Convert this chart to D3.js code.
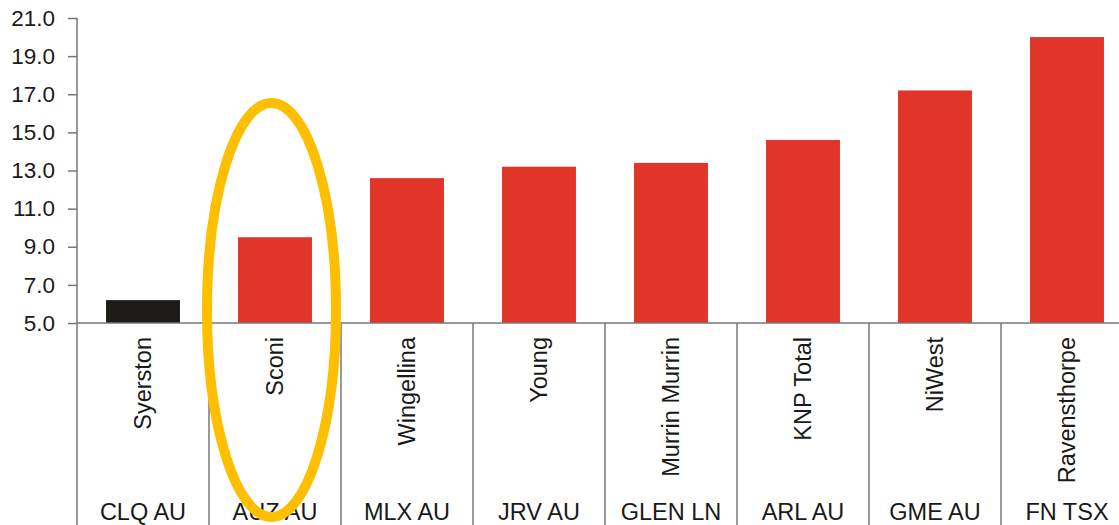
<!DOCTYPE html>
<html>
<head>
<meta charset="utf-8">
<script src="https://cdn.jsdelivr.net/npm/d3@7"></script>
<style>
  body { margin: 0; background: white; }
  text { font-family: "Liberation Sans", Arial, sans-serif; fill: #1a1a1a; }
</style>
</head>
<body>
<div id="canvas"></div>
<script>
const width = 1119;
const height = 525;

// data
const tickers = ["CLQ AU", "AUZ AU", "MLX AU", "JRV AU", "GLEN LN", "ARL AU", "GME AU", "FN TSX"];
const projects = ["Syerston", "Sconi", "Wingellina", "Young", "Murrin Murrin", "KNP Total", "NiWest", "Ravensthorpe"];
const values = [6.2, 9.5, 12.6, 13.2, 13.4, 14.6, 17.2, 20.0];
const barColors = ["#1c1b18", "#e1352a", "#e1352a", "#e1352a", "#e1352a", "#e1352a", "#e1352a", "#e1352a"];
const yTicks = [5, 7, 9, 11, 13, 15, 17, 19, 21];
const highlighted = "AUZ AU";

const plotLeft = 77;
const axisY = 323;
const plotTop = 18;
const bandW = 132;

const svg = d3.select("#canvas")
    .append("svg")
    .attr("width", width)
    .attr("height", height);

let x = d3.scaleBand()
    .domain(tickers)
    .range([plotLeft, plotLeft + bandW * tickers.length])
    .paddingInner(0.44)
    .paddingOuter(0.22);

let bands = d3.scaleBand()
    .domain(tickers)
    .range([plotLeft, plotLeft + bandW * tickers.length]);

let y = d3.scaleLinear()
    .domain([5, 21])
    .range([axisY, plotTop]);

// bars
svg.selectAll(".bar")
    .data(values)
    .enter()
    .append("rect")
    .attr("x", (d, i) => x(tickers[i]))
    .attr("width", x.bandwidth())
    .attr("y", d => y(d))
    .attr("height", d => y(5) - y(d))
    .attr("fill", (d, i) => barColors[i]);

// y axis
let yAxis = svg.append("g")
    .attr("transform", "translate(" + plotLeft + ",0)")
    .call(d3.axisLeft(y).tickValues(yTicks).tickFormat(d3.format(".1f")).tickSize(9).tickPadding(13));

yAxis.select(".domain").remove();
yAxis.selectAll(".tick line").attr("stroke", "#777").attr("stroke-width", 1.5);
yAxis.selectAll(".tick text")
    .style("font-size", "22.5px")
    .attr("fill", "#1a1a1a");

// left line, runs from the top tick down to the bottom
svg.append("line")
    .attr("x1", plotLeft).attr("x2", plotLeft)
    .attr("y1", y(21)).attr("y2", height)
    .attr("stroke", "#777")
    .attr("stroke-width", 1.5);

// baseline
svg.append("line")
    .attr("x1", plotLeft).attr("x2", width)
    .attr("y1", y(5)).attr("y2", y(5))
    .attr("stroke", "#777")
    .attr("stroke-width", 1.5);

// category separators
svg.selectAll(".sep")
    .data(tickers.slice(1))
    .enter()
    .append("line")
    .attr("x1", d => bands(d)).attr("x2", d => bands(d))
    .attr("y1", y(5)).attr("y2", height)
    .attr("stroke", "#777")
    .attr("stroke-width", 1.5);

// project names, rotated
svg.selectAll(".proj")
    .data(projects)
    .enter()
    .append("text")
    .attr("transform", (d, i) => "translate(" + (bands(tickers[i]) + bands.bandwidth() / 2) + "," + (y(5) + 14) + ") rotate(-90)")
    .attr("text-anchor", "end")
    .attr("dominant-baseline", "central")
    .style("font-size", "23.5px")
    .text(d => d);

// tickers at the bottom
svg.selectAll(".tick-name")
    .data(tickers)
    .enter()
    .append("text")
    .attr("x", d => bands(d) + bands.bandwidth() / 2)
    .attr("y", 520)
    .attr("text-anchor", "middle")
    .style("font-size", "23.5px")
    .text(d => d);

// yellow highlight ring
svg.append("ellipse")
    .attr("cx", bands(highlighted) + bands.bandwidth() / 2 - 3.5)
    .attr("cy", 310)
    .attr("rx", 64.5)
    .attr("ry", 207)
    .attr("fill", "none")
    .attr("stroke", "#fdbf00")
    .attr("stroke-width", 10);
</script>
</body>
</html>
